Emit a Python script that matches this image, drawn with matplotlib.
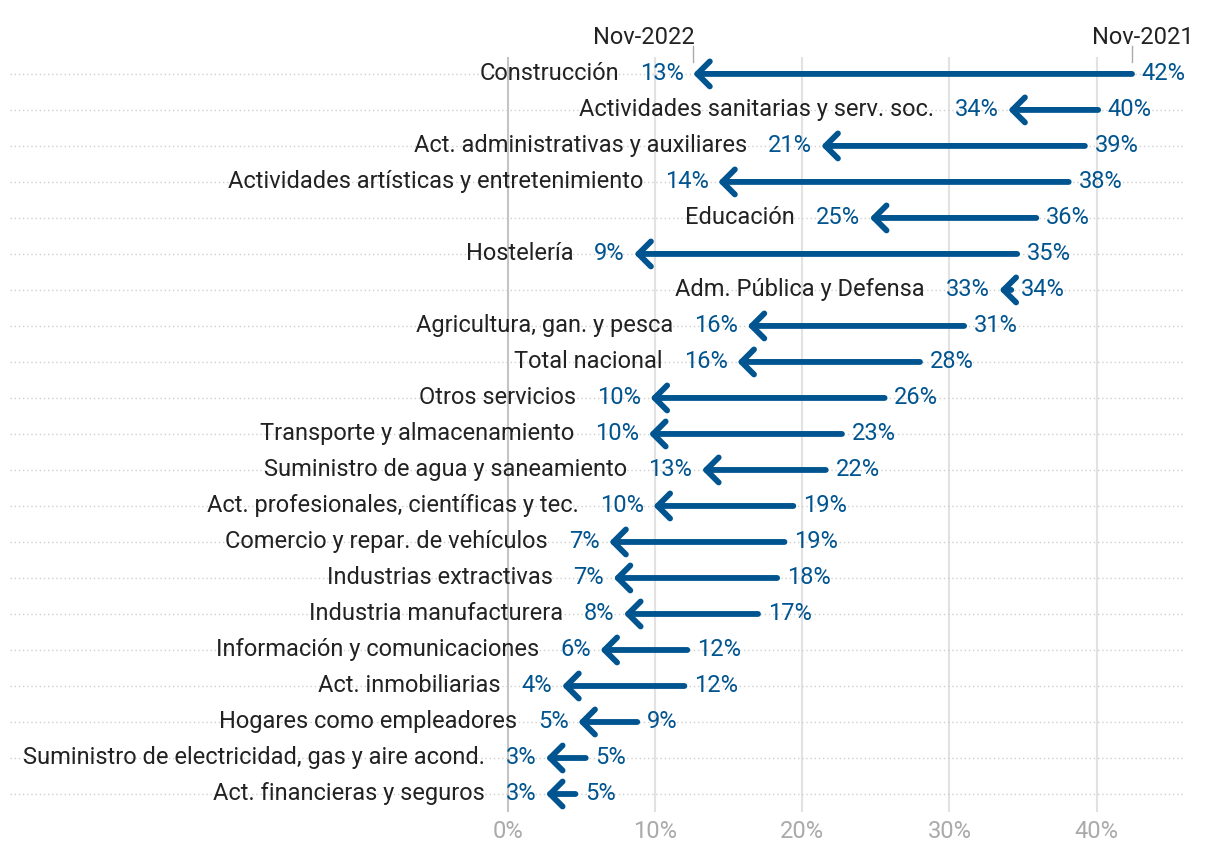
import matplotlib.pyplot as plt

plt.rcParams['font.family'] = ['Roboto', 'DejaVu Sans']

# sectores de arriba a abajo
sectores = ['Construcción', 'Actividades sanitarias y serv. soc.',
            'Act. administrativas y auxiliares',
            'Actividades artísticas y entretenimiento', 'Educación',
            'Hostelería', 'Adm. Pública y Defensa',
            'Agricultura, gan. y pesca', 'Total nacional', 'Otros servicios',
            'Transporte y almacenamiento', 'Suministro de agua y saneamiento',
            'Act. profesionales, científicas y tec.',
            'Comercio y repar. de vehículos', 'Industrias extractivas',
            'Industria manufacturera', 'Información y comunicaciones',
            'Act. inmobiliarias', 'Hogares como empleadores',
            'Suministro de electricidad, gas y aire acond.',
            'Act. financieras y seguros']
nov_2021 = [42.4, 40.1, 39.2, 38.1, 35.9, 34.6, 34.2, 31.0, 28.0, 25.6,
            22.7, 21.6, 19.4, 18.8, 18.3, 17.0, 12.2, 12.0, 8.8, 5.3, 4.6]
nov_2022 = [12.6, 34.0, 21.3, 14.3, 24.6, 8.6, 33.4, 16.3, 15.6, 9.7,
            9.6, 13.2, 9.9, 6.9, 7.2, 7.9, 6.3, 3.7, 4.8, 2.6, 2.6]
ticks = [0, 10, 20, 30, 40]

azul = '#00548f'
fs = 17
n = len(sectores)

fig = plt.figure(figsize=(12.2, 8.6), dpi=100)
ax = fig.add_axes([10 / 1220, 48 / 860, 1175 / 1220, 755 / 860])
ax.set_xlim(-33.8, 46.0)
ax.set_ylim(n - 0.5, -0.47)

# rejilla
for t in ticks:
    ax.axvline(t, color='#c4c4c4' if t == 0 else '#e2e2e2', lw=1.5, zorder=0)
for i in range(n):
    ax.axhline(i, color='#cfcfcf', ls=(0, (1, 2)), lw=1, zorder=0)

for i, (nom, a, b) in enumerate(zip(sectores, nov_2021, nov_2022)):
    ax.annotate('', xy=(b, i), xytext=(a, i),
                arrowprops=dict(arrowstyle='->,head_length=0.45,head_width=0.45',
                                color=azul, lw=4.2, shrinkA=0, shrinkB=0,
                                mutation_scale=20, capstyle='round'))
    t_fin = ax.annotate(f'{round(b)}%', xy=(b, i), xytext=(-7, 0),
                        textcoords='offset points', ha='right', va='center',
                        color=azul, fontsize=fs)
    ax.annotate(f'{round(a)}%', xy=(a, i), xytext=(7, 0),
                textcoords='offset points', ha='left', va='center',
                color=azul, fontsize=fs)
    ax.annotate(nom, xy=(0, 0.5), xycoords=t_fin, xytext=(-15, 0),
                textcoords='offset points', ha='right', va='center',
                color='#222222', fontsize=fs)

# cabecera con las fechas
for x, txt, ha, dx in [(nov_2022[0], 'Nov-2022', 'right', 1),
                       (nov_2021[0], 'Nov-2021', 'center', 8)]:
    ax.plot([x, x], [-0.33, -0.78], color='#aaaaaa', lw=1, clip_on=False)
    ax.annotate(txt, xy=(x, -0.83), xytext=(dx, 0), textcoords='offset points',
                ha=ha, va='baseline', fontsize=fs, color='#222222',
                annotation_clip=False)

ax.set_xticks(ticks)
ax.set_xticklabels([f'{t}%' for t in ticks], color='#aaaaaa', fontsize=fs)
ax.tick_params(axis='x', length=0, pad=6)
ax.set_yticks([])
for s in ax.spines.values():
    s.set_visible(False)

fig.savefig('out.png', dpi=100)
